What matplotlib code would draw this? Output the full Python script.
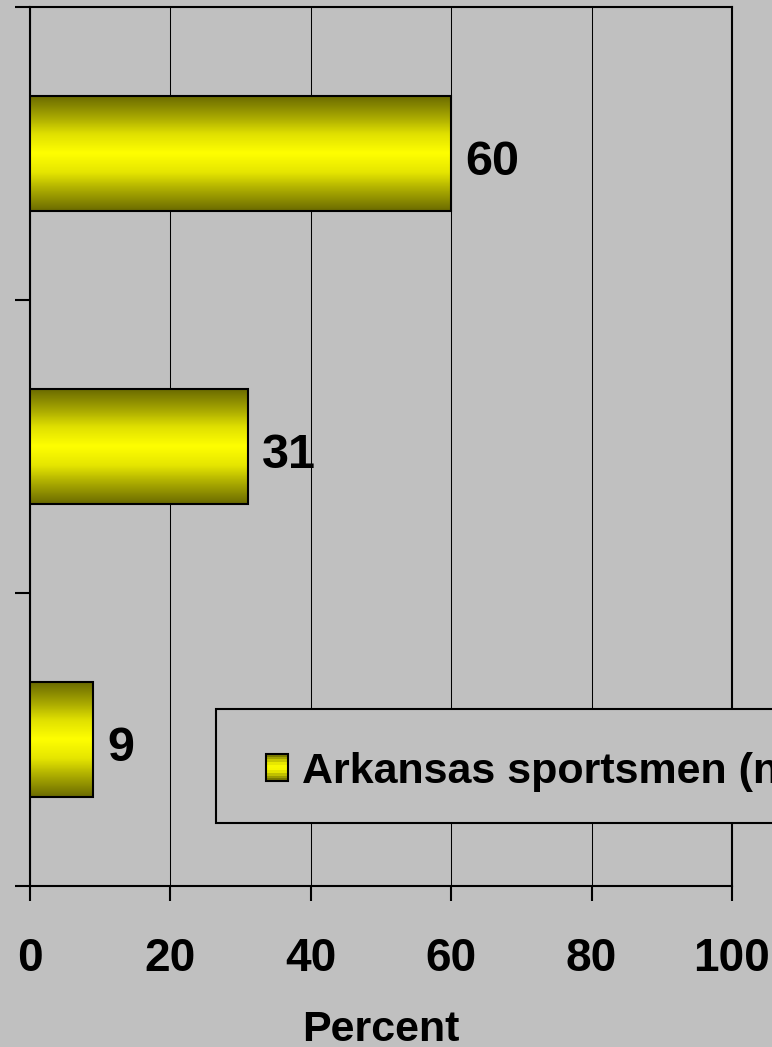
import numpy as np
import matplotlib
matplotlib.use("Agg")
import matplotlib.pyplot as plt
from matplotlib.colors import LinearSegmentedColormap
from matplotlib.patches import Rectangle

BG = "#c0c0c0"
plt.rcParams.update({
    "font.family": ["Liberation Sans", "DejaVu Sans"],
    "font.weight": "bold",
    "figure.facecolor": BG,
    "axes.facecolor": BG,
})

# ── Data ──────────────────────────────────────────────
groups = ["A", "B", "C"]          # category labels are not shown in the chart
values = [60, 31, 9]
xticks = [0, 20, 40, 60, 80, 100]
series_label = "Arkansas sportsmen (n)"

W, H = 772, 1047
fig = plt.figure(figsize=(W / 100, H / 100), dpi=100)
ax = fig.add_axes([30 / W, 1 - 886 / H, (732 - 30) / W, (886 - 7) / H])

# gradient olive -> yellow -> olive
cmap = LinearSegmentedColormap.from_list(
    "gold", ["#6c6c00", "#a8a800", "#e6e600", "#ffff00", "#e0e000", "#a2a200", "#6a6a00"])
grad = np.linspace(0, 1, 64).reshape(-1, 1)

bar_h = 0.395
ypos = np.arange(len(values))
bars = ax.barh(ypos, values, height=bar_h, facecolor="none",
               edgecolor="black", linewidth=1.5, zorder=4)
for rect in bars:
    x0, y0 = rect.get_x(), rect.get_y()
    ax.imshow(grad, cmap=cmap, aspect="auto", origin="lower",
              extent=(x0, x0 + rect.get_width(), y0 + rect.get_height(), y0),
              zorder=3, interpolation="bilinear")

for y, v in zip(ypos, values):
    ax.annotate(f"{v}", xy=(v, y), xytext=(10, -6.5), textcoords="offset points",
                ha="left", va="center", fontsize=35, fontweight="bold")

# ── Axes ──────────────────────────────────────────────
ax.set_xlim(0, 100)
ax.set_ylim(len(values) - 0.5, -0.5)
ax.set_xticks(xticks)
ax.set_xticklabels([str(t) for t in xticks])
ax.set_yticks(np.arange(len(values) + 1) - 0.5)
ax.set_yticklabels([])
ax.tick_params(axis="x", direction="out", length=10.8, width=1.5,
               pad=26, labelsize=33)
ax.tick_params(axis="y", direction="out", length=10.8, width=1.5)
ax.grid(axis="x", color="black", linewidth=0.75, zorder=1)
ax.set_axisbelow(True)
for s in ax.spines.values():
    s.set_linewidth(1.5)
    s.set_color("black")
ax.set_xlabel("Percent", fontsize=31, fontweight="bold", labelpad=21)

# ── Legend box (extends past the figure edge) ─────────
fig.add_artist(Rectangle((216 / W, 1 - 823 / H), (820 - 216) / W, (823 - 709) / H,
                         transform=fig.transFigure, facecolor=BG,
                         edgecolor="black", linewidth=1.5, zorder=5))
lx0, lx1, ly0, ly1 = 266, 288, 754, 781
nb = 10
for i in range(nb):
    c = cmap((i + 0.5) / nb)
    fig.add_artist(Rectangle((lx0 / W, 1 - (ly0 + (i + 1) * (ly1 - ly0) / nb) / H),
                             (lx1 - lx0) / W, (ly1 - ly0) / nb / H,
                             transform=fig.transFigure, facecolor=c,
                             edgecolor="none", zorder=6))
fig.add_artist(Rectangle((lx0 / W, 1 - ly1 / H), (lx1 - lx0) / W, (ly1 - ly0) / H,
                         transform=fig.transFigure, facecolor="none",
                         edgecolor="black", linewidth=1.5, zorder=7))
fig.text(302 / W, 1 - 783 / H, series_label, ha="left", va="baseline",
         fontsize=31, fontweight="bold", zorder=7)

fig.savefig("out.png", dpi=100, facecolor=BG)
